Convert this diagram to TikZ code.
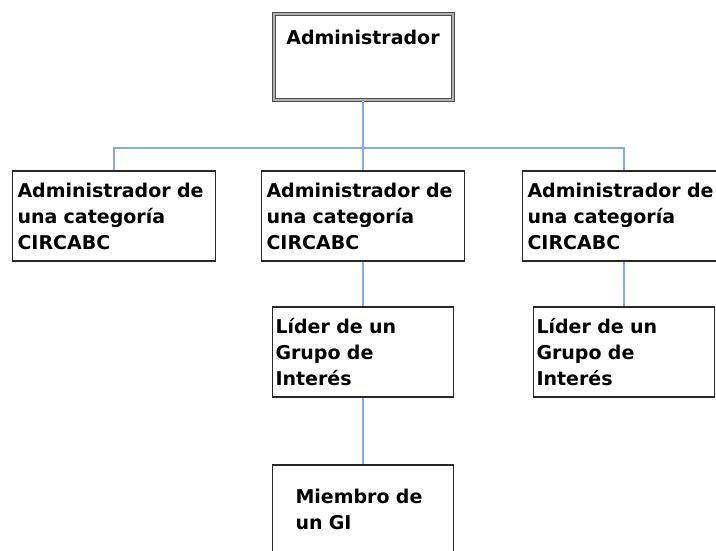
\documentclass[tikz,border=0pt]{standalone}
\usepackage{fontspec}
\setmainfont{DejaVu Sans}
\usepackage{tikz}

\definecolor{linkblue}{RGB}{135,172,228}
\definecolor{boxline}{RGB}{40,40,40}

\tikzset{
  orgfont/.style={font=\bfseries\fontsize{19}{26}\selectfont},
  catbox/.style={orgfont, rectangle, draw=boxline, line width=1.2pt, fill=white,
    minimum width=203pt, minimum height=90pt, text width=193pt, inner xsep=5pt, align=left},
  leadbox/.style={orgfont, rectangle, draw=boxline, line width=1.2pt, fill=white,
    minimum width=181pt, minimum height=90pt, text width=175pt, inner xsep=3pt, align=left},
  memberbox/.style={orgfont, rectangle, draw=boxline, line width=1.2pt, fill=white,
    minimum width=181pt, minimum height=88pt, text width=135pt, inner xsep=23pt, align=left},
  adminbox/.style={orgfont, rectangle, draw=black!70, double=black!30, double distance=2pt,
    line width=1pt, fill=white, minimum width=179pt, inner ysep=0pt,
    text height=31pt, text depth=55pt},
  link/.style={draw=linkblue, line width=2pt}
}

\begin{document}
\begin{tikzpicture}[x=1pt,y=-1pt]
      \useasboundingbox (0,0) rectangle (716,551);
      \clip (0,0) rectangle (716,551);

      % Top of the tree
      \node[adminbox] (admin) at (363,57) {Administrador};

      % Category administrators
      \node[catbox] (catL) at (114,216) {Administrador de\\una categoría\\CIRCABC};
      \node[catbox] (catM) at (363,216) {Administrador de\\una categoría\\CIRCABC};
      \node[catbox] (catR) at (624,216) {Administrador de\\una categoría\\CIRCABC};

      % Group leaders
      \node[leadbox] (leadM) at (363,352) {Líder de un\\Grupo de\\Interés};
      \node[leadbox] (leadR) at (624,352) {Líder de un\\Grupo de\\Interés};

      % Member
      \node[memberbox] (member) at (363,509) {Miembro de\\un GI};

      % Connectors
      \coordinate (bus) at (363,148);
      \draw[link] (admin.south) -- (bus);
      \draw[link] (bus) -| (catL.north);
      \draw[link] (bus) -| (catR.north);
      \draw[link] (bus) -- (catM.north);
      \draw[link] (catM.south) -- (leadM.north);
      \draw[link] (catR.south) -- (leadR.north);
      \draw[link] (leadM.south) -- (member.north);
  \end{tikzpicture}
\end{document}
